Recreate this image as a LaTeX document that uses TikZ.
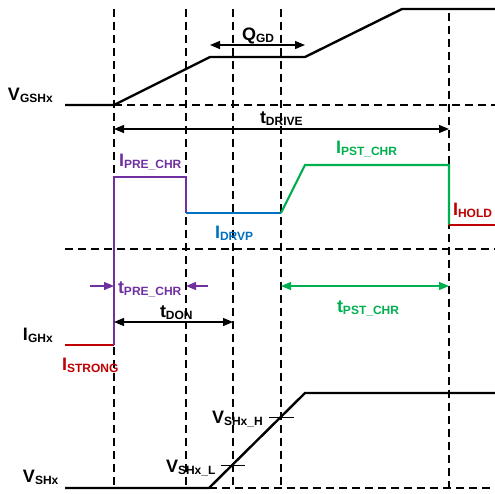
\documentclass[tikz,border=0pt]{standalone}
\usepackage{fontspec}
\setmainfont{Liberation Sans}
\usetikzlibrary{arrows.meta}
\definecolor{cpur}{RGB}{112,48,160}
\definecolor{cblu}{RGB}{0,112,192}
\definecolor{cgrn}{RGB}{0,176,80}
\definecolor{cred}{RGB}{192,0,0}
\newcommand\sig[2]{\textbf{\fontsize{18}{18}\selectfont #1\raisebox{-2pt}{\fontsize{12}{12}\selectfont #2}}}
\tikzset{
  wave/.style={line width=2.4pt, line cap=butt, line join=miter},
  cwave/.style={line width=2.2pt, line cap=butt, line join=miter},
  guide/.style={line width=1.2pt, dash pattern=on 8pt off 5pt, black},
  dim/.style={line width=1.2pt, {Triangle[length=10pt,width=8pt]}-{Triangle[length=10pt,width=8pt]}},
  dimone/.style={line width=1.2pt, -{Triangle[length=10pt,width=8pt]}},
  lab/.style={anchor=base west, inner sep=0pt, outer sep=0pt},
  tick/.style={line width=1pt}
}
\begin{document}
\begin{tikzpicture}[x=1pt,y=-1pt]
\useasboundingbox (0,0) rectangle (495,493);
% guides
\draw[guide] (114,9) -- (114,488);
\draw[guide] (186,9) -- (186,488);
\draw[guide] (233,9) -- (233,488);
\draw[guide] (281,9) -- (281,488);
\draw[guide] (449,13) -- (449,488);
\draw[guide] (114,105) -- (495,105);
\draw[guide] (65,249) -- (495,249);
\draw[guide] (209,488) -- (495,488);
% VGS waveform
\draw[wave] (65,105) -- (114,105) -- (210,57) -- (305,57) -- (402,9) -- (495,9);
% IGH waveform
\draw[cwave, cred] (65,345) -- (114,345);
\draw[cwave, cpur] (114,345) -- (114,177) -- (186,177) -- (186,213);
\draw[cwave, cblu] (186,213) -- (281,213);
\draw[cwave, cgrn] (281,213) -- (305,165) -- (449,165) -- (449,225);
\draw[cwave, cred] (449,225) -- (495,225);
% VSH waveform
\draw[wave] (65,488) -- (209,488) -- (305,393) -- (495,393);
\draw[tick] (221,465) -- (245,465);
\draw[tick] (269,417) -- (294,417);
% dimension coordinates
\coordinate (qa) at (210,45);
\coordinate (qb) at (305,45);
\coordinate (da) at (114,129);
\coordinate (db) at (449,129);
\coordinate (pa) at (90,286);
\coordinate (pb) at (114,286);
\coordinate (pc) at (208,286);
\coordinate (pd) at (186,286);
\coordinate (na) at (114,322);
\coordinate (nb) at (233,322);
\coordinate (sa) at (281,286);
\coordinate (sb) at (449,286);
\draw[dim] (qa) -- (qb);
\draw[dim] (da) -- (db);
\draw[dimone, cpur] (pa) -- (pb);
\draw[dimone, cpur] (pc) -- (pd);
\draw[dim] (na) -- (nb);
\draw[dim, cgrn] (sa) -- (sb);
% labels
\node[lab] (vgs) at (8,100) {\sig{V}{GSHx}};
\node[lab] (qgd) at (242,40) {\sig{Q}{GD}};
\node[lab] (tdrive) at (260,123) {\sig{t}{DRIVE}};
\node[lab, text=cpur] (ipre) at (119,166) {\sig{I}{PRE\_CHR}};
\node[lab, text=cgrn] (ipst) at (336,153) {\sig{I}{PST\_CHR}};
\node[lab, text=cblu] (idrvp) at (215,238) {\sig{I}{DRVP}};
\node[lab, text=cred] (ihold) at (453,215) {\sig{I}{HOLD}};
\node[lab, text=cpur] (tpre) at (118,293) {\sig{t}{PRE\_CHR}};
\node[lab] (tdon) at (160,317) {\sig{t}{DON}};
\node[lab] (igh) at (23,340) {\sig{I}{GHx}};
\node[lab, text=cred] (istrong) at (62,370) {\sig{I}{STRONG}};
\node[lab, text=cgrn] (tpst) at (337,312) {\sig{t}{PST\_CHR}};
\node[lab] (vsh) at (23,482) {\sig{V}{SHx}};
\node[lab] (vshl) at (166,472) {\sig{V}{SHx\_L}};
\node[lab] (vshh) at (212,423) {\sig{V}{SHx\_H}};
\end{tikzpicture}
\end{document}
